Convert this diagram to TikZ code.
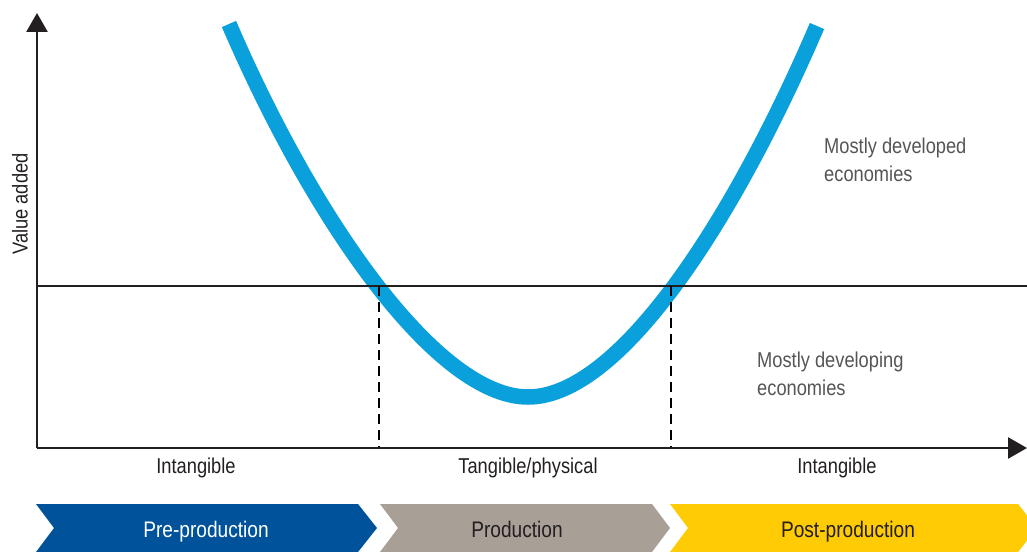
\documentclass[tikz,border=0pt]{standalone}
\usepackage{fontspec}
\setmainfont{Liberation Sans}[FakeStretch=0.85]
\usetikzlibrary{arrows.meta}
\definecolor{curveblue}{RGB}{10,160,220}
\definecolor{chevblue}{RGB}{0,82,155}
\definecolor{chevgrey}{RGB}{168,159,150}
\definecolor{chevyellow}{RGB}{255,203,5}
\definecolor{axisblack}{RGB}{35,31,32}
\definecolor{labgrey}{RGB}{85,85,85}
\tikzset{
  axisline/.style={draw=axisblack, line width=2.6pt, -{Triangle[length=19pt,width=21pt]}},
  midline/.style={draw=axisblack, line width=2pt},
  dropline/.style={draw=black, line width=2pt, dash pattern=on 10pt off 6pt},
  curveline/.style={draw=curveblue, line width=15.5pt},
  axlabel/.style={font=\fontsize{21.5}{26}\selectfont, text=axisblack, inner sep=0pt},
  econlabel/.style={font=\fontsize{21.5}{28}\selectfont, text=labgrey, inner sep=0pt, align=left, anchor=base west},
  chevtext/.style={font=\fontsize{22.5}{27}\selectfont, inner sep=0pt, anchor=base}
}
\begin{document}
\begin{tikzpicture}[x=1pt,y=-1pt]
\useasboundingbox (0,0) rectangle (1027,551);
\clip (0,0) rectangle (1027,551);
% coordinates
\coordinate (O) at (37,448);
\coordinate (ytop) at (37,13);
\coordinate (xend) at (1027,448);
\coordinate (ml) at (37,286);
\coordinate (mr) at (1027,286);
\coordinate (d1t) at (379,286);
\coordinate (d1b) at (379,448);
\coordinate (d2t) at (671,286);
\coordinate (d2b) at (671,448);
\coordinate (cstart) at (229,24);
\coordinate (cmin) at (528,397);
\coordinate (cend) at (817,26);
% chevrons
\fill[chevblue] (36,504) -- (358,504) -- (377,528) -- (358,552) -- (36,552) -- (54,528) -- cycle;
\fill[chevgrey] (380,504) -- (652,504) -- (670,528) -- (652,552) -- (380,552) -- (398,528) -- cycle;
\fill[chevyellow] (670,504) -- (1018,504) -- (1037,528) -- (1018,552) -- (670,552) -- (688,528) -- cycle;
\node[chevtext, text=white] (pre) at (206,537) {Pre-production};
\node[chevtext, text=axisblack] (prod) at (517,537) {Production};
\node[chevtext, text=axisblack] (post) at (848,537) {Post-production};
% curve
\draw[curveline] (cstart) .. controls (315,224) and (438,397) .. (cmin)
                          .. controls (618,397) and (731,226) .. (cend);
% lines
\draw[midline] (ml) -- (mr);
\draw[dropline] (d1t) -- (d1b);
\draw[dropline] (d2t) -- (d2b);
\draw[axisline] (O) -- (ytop);
\draw[axisline] (O) -- (xend);
% labels
\node[axlabel, rotate=90] (va) at (20,204) {Value added};
\node[axlabel] (int1) at (196,468) {Intangible};
\node[axlabel] (tan) at (528,468) {Tangible/physical};
\node[axlabel] (int2) at (837,468) {Intangible};
\node[econlabel] (dev) at (824,181) {Mostly developed\\economies};
\node[econlabel] (dvg) at (757,395) {Mostly developing\\economies};
\end{tikzpicture}
\end{document}
